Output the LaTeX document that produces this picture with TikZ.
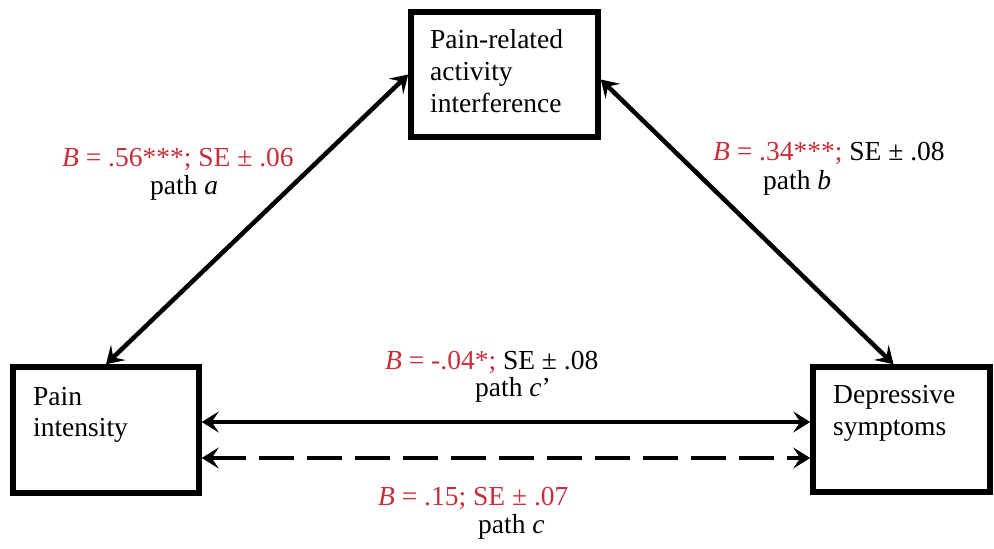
\documentclass[tikz,border=0pt]{standalone}
\usepackage{fontspec}
\setmainfont{Liberation Serif}
\usetikzlibrary{arrows.meta,calc}
\definecolor{redlab}{RGB}{200,45,58}
\tikzset{
  box/.style={draw=black, line width=5.5pt, rectangle, inner sep=0pt},
  txt/.style={anchor=base west, inner sep=0pt, font=\fontsize{27.5}{32}\selectfont},
  conn/.style={line width=4.5pt, {Stealth[length=17pt,width=21pt,inset=7pt]}-{Stealth[length=17pt,width=21pt,inset=7pt]}},
  dashconn/.style={conn, dash pattern=on 35pt off 13pt}
}
\begin{document}
\begin{tikzpicture}[x=1pt,y=-1pt]
\useasboundingbox (0,0) rectangle (994,549);
% boxes
\node[box, minimum width=187pt, minimum height=125pt] (pra) at (504.5,74.5) {};
\node[box, minimum width=186pt, minimum height=126pt] (pi) at (106,430) {};
\node[box, minimum width=177pt, minimum height=125pt] (ds) at (901.5,429.5) {};
% box texts
\node[txt] (pra1) at (430,48) {Pain-related};
\node[txt] (pra2) at (430,80) {activity};
\node[txt] (pra3) at (430,112) {interference};
\node[txt] (pi1) at (33,405) {Pain};
\node[txt] (pi2) at (33,436) {intensity};
\node[txt] (ds1) at (833,403) {Depressive};
\node[txt] (ds2) at (833,435) {symptoms};
% connectors
\draw[conn] (pi.north) -- (pra.west);
\draw[conn] ([yshift=-5pt]pra.east) -- ([xshift=-8pt]ds.north);
\draw[conn] ([yshift=8pt]pi.east) -- ([yshift=8pt]pi.east -| ds.west);
\draw[dashconn] ([yshift=-28pt]pi.east) -- ([yshift=-28pt]pi.east -| ds.west);
% labels
\node[txt, text=redlab] (la1) at (62,166) {\textit{B} = .56***; SE ± .06};
\node[txt] (la2) at (150,194) {path \textit{a}};
\node[txt] (lb1) at (713,160) {\textcolor{redlab}{\textit{B} = .34***;} SE ± .08};
\node[txt] (lb2) at (763,189) {path \textit{b}};
\node[txt] (lc1) at (385,369) {\textcolor{redlab}{\textit{B} = -.04*;} SE ± .08};
\node[txt] (lc2) at (475,396) {path \textit{c}’};
\node[txt, text=redlab] (ld1) at (378,505) {\textit{B} = .15; SE ± .07};
\node[txt] (ld2) at (478,533) {path \textit{c}};
\end{tikzpicture}
\end{document}
